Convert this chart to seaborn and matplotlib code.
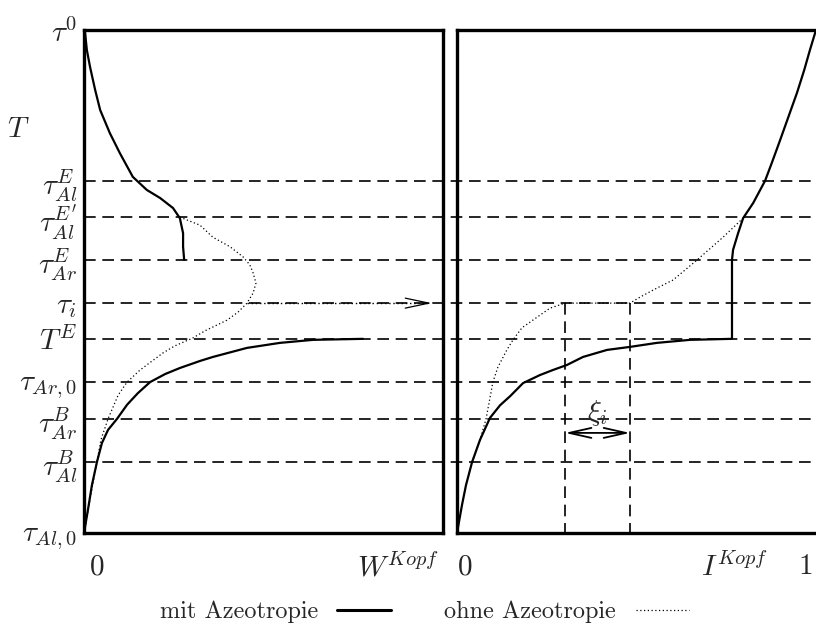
import matplotlib.pyplot as plt
import seaborn as sns
from matplotlib.lines import Line2D

# Temperaturniveaus (T normiert: 0 = tau_Al,0 unten, 1 = tau^0 oben)
T_LEVELS = [1.0, 0.700, 0.628, 0.543, 0.457, 0.386, 0.300, 0.227, 0.141, 0.0]
T_LABELS = [r'$\tau^0$', r'$\tau^E_{Al}$', r"$\tau^{E'}_{Al}$", r'$\tau^E_{Ar}$',
            r'$\tau_i$', r'$T^E$', r'$\tau_{Ar,0}$', r'$\tau^B_{Ar}$',
            r'$\tau^B_{Al}$', r'$\tau_{Al,0}$']
T_DASHED = [0.700, 0.628, 0.543, 0.457, 0.386, 0.300, 0.227, 0.141]
T_I = 0.457

# Links: W^Kopf, mit Azeotropie (oberer Ast)
w_mit_oben_x = [0.000, 0.003, 0.008, 0.017, 0.031, 0.045, 0.072, 0.100, 0.136,
                0.175, 0.212, 0.248, 0.267, 0.276, 0.276, 0.279]
w_mit_oben_t = [1.000, 0.994, 0.960, 0.926, 0.881, 0.841, 0.795, 0.755, 0.708,
                0.682, 0.666, 0.646, 0.626, 0.596, 0.569, 0.543]
# Links: W^Kopf, mit Azeotropie (unterer Ast)
w_mit_unten_x = [0.000, 0.011, 0.022, 0.036, 0.050, 0.067, 0.092, 0.120, 0.150,
                 0.184, 0.226, 0.267, 0.323, 0.359, 0.454, 0.546, 0.638, 0.777]
w_mit_unten_t = [0.000, 0.046, 0.095, 0.141, 0.179, 0.205, 0.227, 0.255, 0.278,
                 0.300, 0.316, 0.328, 0.342, 0.350, 0.368, 0.378, 0.384, 0.386]
# Links: W^Kopf, ohne Azeotropie
w_ohne_x = [0.267, 0.323, 0.359, 0.407, 0.443, 0.462, 0.471, 0.479, 0.471, 0.454,
            0.429, 0.398, 0.337, 0.304, 0.253, 0.220, 0.156, 0.120, 0.095, 0.067,
            0.047, 0.036, 0.019, 0.000]
w_ohne_t = [0.628, 0.612, 0.588, 0.569, 0.549, 0.533, 0.517, 0.497, 0.477, 0.457,
            0.439, 0.423, 0.402, 0.388, 0.372, 0.358, 0.324, 0.300, 0.274, 0.227,
            0.185, 0.141, 0.076, 0.000]

# Rechts: I^Kopf, mit Azeotropie
i_mit_x = [0.000, 0.014, 0.025, 0.042, 0.064, 0.092, 0.120, 0.148, 0.184, 0.231,
           0.267, 0.306, 0.351, 0.418, 0.482, 0.557, 0.649, 0.766, 0.766, 0.769,
           0.783, 0.797, 0.825, 0.858, 0.877, 0.900, 0.922, 0.947, 0.967, 0.983,
           1.000]
i_mit_t = [0.000, 0.056, 0.095, 0.141, 0.185, 0.229, 0.254, 0.272, 0.298, 0.314,
           0.324, 0.334, 0.350, 0.364, 0.370, 0.378, 0.384, 0.386, 0.543, 0.563,
           0.596, 0.626, 0.656, 0.700, 0.736, 0.781, 0.825, 0.875, 0.920, 0.960,
           1.000]
# Rechts: I^Kopf, ohne Azeotropie
i_ohne_x = [0.042, 0.064, 0.081, 0.100, 0.114, 0.139, 0.156, 0.181, 0.203, 0.259,
            0.301, 0.482, 0.510, 0.557, 0.602, 0.669, 0.741, 0.797]
i_ohne_t = [0.141, 0.185, 0.227, 0.300, 0.330, 0.364, 0.384, 0.408, 0.419, 0.447,
            0.457, 0.457, 0.469, 0.487, 0.503, 0.543, 0.588, 0.626]

# xi_i: Abstand zwischen den beiden Aesten bei tau_i
XI_LEFT, XI_RIGHT, XI_T = 0.301, 0.482, 0.199


def zeichnen():
    sns.set_style('white')
    plt.rcParams['font.family'] = ['cmr10', 'DejaVu Serif']
    plt.rcParams['mathtext.fontset'] = 'cm'
    plt.rcParams['axes.unicode_minus'] = False

    fig = plt.figure(figsize=(8.16, 6.39), dpi=100)
    ax1 = fig.add_axes([84 / 816, 106 / 639, 359 / 816, 503 / 639])
    ax2 = fig.add_axes([457 / 816, 106 / 639, 359 / 816, 503 / 639])
    ax2.patch.set_alpha(0)

    solid = dict(color='black', lw=1.6, sort=False, estimator=None, legend=False)
    dotted = dict(color='black', lw=0.9, linestyle=(0, (1, 2)), sort=False,
                  estimator=None, legend=False)
    dash = dict(color='black', lw=1.2, linestyle=(0, (7, 4)))

    # 1. Gestrichelte Temperaturniveaus ueber beide Diagramme
    for t in T_DASHED:
        ax1.axhline(t, xmin=0, xmax=(816 - 84) / 359, clip_on=False, zorder=1, **dash)

    # 2. Kurven links (W^Kopf)
    sns.lineplot(x=w_mit_oben_x, y=w_mit_oben_t, ax=ax1, **solid)
    sns.lineplot(x=w_mit_unten_x, y=w_mit_unten_t, ax=ax1, **solid)
    sns.lineplot(x=w_ohne_x, y=w_ohne_t, ax=ax1, **dotted)

    # Gepunkteter Pfeil bei tau_i nach rechts
    ax1.plot([0.454, 0.965], [T_I, T_I], color='black', lw=1.0, linestyle=(0, (1, 2)))
    ax1.annotate('', xy=(0.969, T_I), xytext=(0.95, T_I),
                 arrowprops=dict(arrowstyle='->,head_length=0.85,head_width=0.18',
                                 mutation_scale=20, lw=0.9, color='black',
                                 shrinkA=0, shrinkB=0))

    # 3. Kurven rechts (I^Kopf)
    sns.lineplot(x=i_mit_x, y=i_mit_t, ax=ax2, **solid)
    sns.lineplot(x=i_ohne_x, y=i_ohne_t, ax=ax2, **dotted)

    for x in (XI_LEFT, XI_RIGHT):
        ax2.plot([x, x], [T_I, -0.014], clip_on=False, **dash)
    ax2.annotate('', xy=(XI_LEFT, XI_T), xytext=(XI_RIGHT, XI_T),
                 arrowprops=dict(arrowstyle='<->,head_length=0.8,head_width=0.18',
                                 mutation_scale=20, lw=1.3, color='black',
                                 shrinkA=0, shrinkB=0))
    ax2.text(0.39, 0.238, r'$\xi_i$', fontsize=21, ha='center', va='center')

    # 4. Achsen
    for ax in (ax1, ax2):
        ax.set_xlim(0, 1)
        ax.set_ylim(0, 1)
        ax.set_xticks([])
        ax.set_xlabel('')
        ax.set_ylabel('')
        for s in ax.spines.values():
            s.set_linewidth(2.4)
            s.set_color('black')
    ax2.spines['right'].set_visible(False)

    ax1.set_yticks(T_LEVELS, T_LABELS, fontsize=21)
    ax1.tick_params(axis='y', length=0, pad=5)
    ax2.set_yticks([])

    ax1.text(-0.184, 0.801, r'$T$', fontsize=21, transform=ax1.transAxes,
             ha='center', va='center')
    ax1.text(0.036, -0.068, '0', fontsize=21, transform=ax1.transAxes,
             ha='center', va='center')
    ax1.text(0.875, -0.068, r'$W^{Kopf}$', fontsize=21, transform=ax1.transAxes,
             ha='center', va='center')
    ax2.text(0.022, -0.068, '0', fontsize=21, transform=ax2.transAxes,
             ha='center', va='center')
    ax2.text(0.774, -0.068, r'$I^{Kopf}$', fontsize=21, transform=ax2.transAxes,
             ha='center', va='center')
    ax2.text(0.972, -0.068, '1', fontsize=21, transform=ax2.transAxes,
             ha='center', va='center')

    # 5. Legende (Symbol rechts vom Text)
    handles = [Line2D([], [], color='black', lw=2.2),
               Line2D([], [], color='black', lw=0.9, linestyle=(0, (1, 2)))]
    fig.legend(handles, ['mit Azeotropie', 'ohne Azeotropie'], loc='center',
               bbox_to_anchor=(0.52, 0.042), ncol=2, frameon=False,
               markerfirst=False, handlelength=2.2, handletextpad=0.8,
               columnspacing=2.2, fontsize=17.5)

    fig.savefig('out.png', dpi=100)


if __name__ == '__main__':
    zeichnen()
